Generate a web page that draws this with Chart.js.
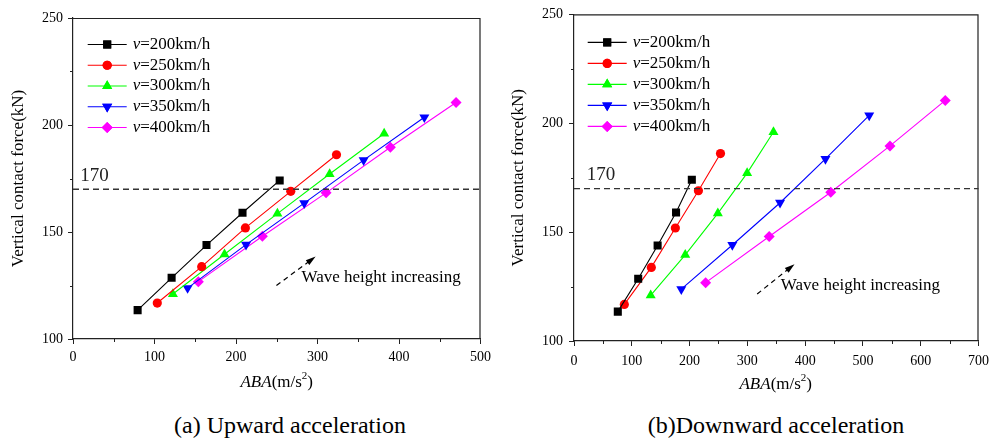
<!DOCTYPE html>
<html lang="en">
  <head>
    <meta charset="UTF-8" />
    <title>ABA vs vertical contact force</title>
    <script src="https://cdn.jsdelivr.net/npm/chart.js"></script>
    <style>
      body {
        margin: 0;
        background: #fff;
        font-family: "Liberation Serif", serif;
      }
      .wrap {
        position: relative;
        width: 996px;
        height: 441px;
        overflow: hidden;
      }
      canvas {
        position: absolute;
        top: 0;
      }
      .caption {
        position: absolute;
        top: 410px;
        font-size: 24px;
        line-height: 30px;
        color: #000;
        transform: translateX(-50%);
        white-space: nowrap;
      }
    </style>
  </head>
  <body>
    <div class="wrap">
      <canvas id="upChart" width="496" height="400" style="left: 0"></canvas>
      <canvas id="downChart" width="500" height="400" style="left: 496px"></canvas>
      <div class="caption" style="left: 290px">(a) Upward acceleration</div>
      <div class="caption" style="left: 776px">(b)Downward acceleration</div>
    </div>

    <script>
      // speeds (km/h) and colours per series
      const speeds = ["200", "250", "300", "350", "400"];
      const colors = ["#000000", "#ff0000", "#00ff00", "#0000ff", "#ff00ff"];

      // vertical contact force (kN), same wave heights in both panels
      const force200 = [113.5, 128.6, 143.9, 159.0, 174.1];
      const force250 = [116.8, 133.8, 151.9, 169.0, 186.1];
      const force300 = [121.0, 139.6, 158.6, 177.1, 196.0];
      const force350 = [123.8, 144.1, 163.5, 183.6, 203.6];
      const force400 = [126.8, 148.0, 168.3, 189.6, 210.5];

      // ABA (m/s2), upward acceleration
      const upAba200 = [79.3, 121.0, 163.8, 208.0, 253.6];
      const upAba250 = [103.4, 157.9, 211.5, 267.2, 323.3];
      const upAba300 = [122.6, 185.9, 250.8, 314.9, 381.8];
      const upAba350 = [140.6, 212.3, 283.7, 356.6, 431.1];
      const upAba400 = [153.8, 232.4, 310.5, 389.4, 470.0];

      // ABA (m/s2), downward acceleration
      const downAba200 = [75.8, 111.1, 144.7, 176.6, 203.9];
      const downAba250 = [87.1, 133.8, 175.4, 215.3, 253.5];
      const downAba300 = [132.7, 192.5, 248.9, 299.6, 345.2];
      const downAba350 = [185.7, 274.0, 356.6, 435.1, 510.9];
      const downAba400 = [227.8, 337.8, 444.3, 546.8, 642.5];

      const forces = [force200, force250, force300, force350, force400];
      const limitForce = 170;

      const FONT = "Liberation Serif";
      const markers = [
        { style: "rect", rotation: 0, radius: 5.7 },
        { style: "circle", rotation: 0, radius: 4.6 },
        { style: "triangle", rotation: 0, radius: 5.8 },
        { style: "triangle", rotation: 180, radius: 5.8 },
        { style: "rectRot", rotation: 0, radius: 5.5 },
      ];

      function buildDatasets(abaList) {
        return abaList.map((aba, i) => ({
          label: "v=" + speeds[i] + "km/h",
          data: aba.map((x, k) => ({ x: x, y: forces[i][k] })),
          showLine: true,
          borderColor: colors[i],
          backgroundColor: colors[i],
          borderWidth: 1.1,
          pointStyle: markers[i].style,
          pointRotation: markers[i].rotation,
          pointRadius: markers[i].radius,
          pointBorderWidth: 0,
          pointHoverRadius: markers[i].radius,
        }));
      }

      // minor ticks, frame, texts, legend and arrow
      const decorPlugin = {
        id: "decor",
        afterDraw(chart) {
          const o = chart.options.plugins.decor;
          const ctx = chart.ctx;
          const a = chart.chartArea;
          const xs = chart.scales.x;
          const ys = chart.scales.y;
          ctx.save();

          // frame
          ctx.strokeStyle = "#222";
          ctx.lineWidth = 1.2;
          ctx.beginPath();
          ctx.moveTo(a.left, a.top + 0.5);
          ctx.lineTo(a.right - 0.5, a.top + 0.5);
          ctx.lineTo(a.right - 0.5, a.bottom);
          ctx.stroke();

          // minor ticks
          ctx.lineWidth = 1;
          ctx.beginPath();
          for (let v = 50; v < o.xMax; v += 100) {
            const px = Math.round(xs.getPixelForValue(v)) + 0.5;
            ctx.moveTo(px, a.bottom);
            ctx.lineTo(px, a.bottom + 3);
          }
          for (let v = 125; v < 250; v += 50) {
            const py = Math.round(ys.getPixelForValue(v)) + 0.5;
            ctx.moveTo(a.left, py);
            ctx.lineTo(a.left - 3, py);
          }
          ctx.stroke();

          // limit dashed line
          ctx.strokeStyle = "#333";
          ctx.lineWidth = 1.4;
          ctx.setLineDash([6, 4]);
          const ly = ys.getPixelForValue(limitForce);
          ctx.beginPath();
          ctx.moveTo(a.left, ly);
          ctx.lineTo(a.right, ly);
          ctx.stroke();
          ctx.setLineDash([]);

          ctx.fillStyle = "#222";
          ctx.font = "19px '" + FONT + "'";
          ctx.textBaseline = "middle";
          ctx.textAlign = "left";
          ctx.fillText(String(limitForce), xs.getPixelForValue(o.limitLabelX), ys.getPixelForValue(176.3));

          // wave arrow
          const x1 = xs.getPixelForValue(o.arrow[0]);
          const y1 = ys.getPixelForValue(o.arrow[1]);
          const x2 = xs.getPixelForValue(o.arrow[2]);
          const y2 = ys.getPixelForValue(o.arrow[3]);
          const ang = Math.atan2(y2 - y1, x2 - x1);
          ctx.strokeStyle = "#000";
          ctx.lineWidth = 1.2;
          ctx.setLineDash([5, 4]);
          ctx.beginPath();
          ctx.moveTo(x1, y1);
          ctx.lineTo(x2 - 8 * Math.cos(ang), y2 - 8 * Math.sin(ang));
          ctx.stroke();
          ctx.setLineDash([]);
          ctx.fillStyle = "#000";
          ctx.beginPath();
          ctx.moveTo(x2, y2);
          ctx.lineTo(x2 - 10 * Math.cos(ang) + 3 * Math.sin(ang), y2 - 10 * Math.sin(ang) - 3 * Math.cos(ang));
          ctx.lineTo(x2 - 10 * Math.cos(ang) - 3 * Math.sin(ang), y2 - 10 * Math.sin(ang) + 3 * Math.cos(ang));
          ctx.closePath();
          ctx.fill();

          ctx.font = "17px '" + FONT + "'";
          ctx.fillText("Wave height increasing", xs.getPixelForValue(o.waveText[0]), ys.getPixelForValue(o.waveText[1]));

          // y title
          ctx.save();
          ctx.translate(o.yTitleX, (a.top + a.bottom) / 2);
          ctx.rotate(-Math.PI / 2);
          ctx.textAlign = "center";
          ctx.font = "17px '" + FONT + "'";
          ctx.fillText("Vertical contact force(kN)", 0, 0);
          ctx.restore();

          // x title: ABA(m/s2)
          const italic = "italic 17px '" + FONT + "'";
          const normal = "17px '" + FONT + "'";
          const small = "11px '" + FONT + "'";
          ctx.font = italic;
          const w1 = ctx.measureText("ABA").width;
          ctx.font = normal;
          const w2 = ctx.measureText("(m/s").width;
          const w3 = ctx.measureText(")").width;
          ctx.font = small;
          const w4 = ctx.measureText("2").width;
          let tx = (a.left + a.right) / 2 - (w1 + w2 + w3 + w4) / 2 + o.xTitleShift;
          const ty = a.bottom + o.xTitleDy;
          ctx.textAlign = "left";
          ctx.font = italic;
          ctx.fillText("ABA", tx, ty);
          tx += w1;
          ctx.font = normal;
          ctx.fillText("(m/s", tx, ty);
          tx += w2;
          ctx.font = small;
          ctx.fillText("2", tx, ty - 7);
          tx += w4;
          ctx.font = normal;
          ctx.fillText(")", tx, ty);

          // legend
          chart.data.datasets.forEach((ds, i) => {
            const y = a.top + o.legendTop + i * o.legendGap;
            const lx = a.left + o.legendLeft;
            ctx.strokeStyle = ds.borderColor;
            ctx.lineWidth = 1.1;
            ctx.beginPath();
            ctx.moveTo(lx, y);
            ctx.lineTo(lx + 39, y);
            ctx.stroke();
            ctx.fillStyle = ds.backgroundColor;
            Chart.helpers.drawPoint(
              ctx,
              { pointStyle: ds.pointStyle, rotation: ds.pointRotation, radius: ds.pointRadius, borderWidth: 0 },
              lx + 19.5,
              y
            );
            ctx.fill();
            ctx.fillStyle = "#000";
            let sx = lx + 45;
            ctx.font = italic;
            ctx.fillText("v", sx, y);
            sx += ctx.measureText("v").width;
            ctx.font = normal;
            ctx.fillText("=" + speeds[i] + "km/h", sx, y);
          });

          ctx.restore();
        },
      };

      function makeChart(id, abaList, cfg) {
        return new Chart(document.getElementById(id), {
          type: "scatter",
          data: { datasets: buildDatasets(abaList) },
          options: {
            responsive: false,
            animation: false,
            layout: { padding: cfg.padding },
            plugins: {
              legend: { display: false },
              tooltip: { enabled: false },
              decor: cfg.decor,
            },
            scales: {
              x: {
                type: "linear",
                min: 0,
                max: cfg.decor.xMax,
                afterFit: (s) => {
                  s.height = cfg.xHeight;
                },
                ticks: {
                  stepSize: 100,
                  color: "#000",
                  padding: cfg.xPad,
                  maxRotation: 0,
                  font: { family: FONT, size: 14 },
                },
                grid: { drawOnChartArea: false, drawTicks: true, tickLength: 5, color: "#222" },
                border: { display: true, color: "#222", width: 1.2 },
              },
              y: {
                type: "linear",
                min: 100,
                max: 250,
                afterFit: (s) => {
                  s.width = cfg.yWidth;
                },
                ticks: {
                  stepSize: 50,
                  color: "#000",
                  padding: cfg.yPad,
                  font: { family: FONT, size: 14 },
                },
                grid: { drawOnChartArea: false, drawTicks: true, tickLength: 5, color: "#222" },
                border: { display: true, color: "#222", width: 1.2 },
              },
            },
          },
          plugins: [decorPlugin],
        });
      }

      function drawAll() {
        makeChart("upChart", [upAba200, upAba250, upAba300, upAba350, upAba400], {
          padding: { top: 18, right: 6, left: 0, bottom: 0 },
          xHeight: 61,
          yWidth: 73,
          xPad: 5,
          yPad: 5,
          decor: {
            xMax: 500,
            limitLabelX: 9,
            arrow: [249.6, 125, 297.7, 138.5],
            waveText: [280.4, 128.5],
            yTitleX: 18.5,
            xTitleShift: 0,
            xTitleDy: 44,
            legendTop: 26.5,
            legendGap: 20.75,
            legendLeft: 14.7,
          },
        });

        makeChart("downChart", [downAba200, downAba250, downAba300, downAba350, downAba400], {
          padding: { top: 12, right: 13, left: 0, bottom: 0 },
          xHeight: 59,
          yWidth: 78,
          xPad: 7,
          yPad: 6,
          decor: {
            xMax: 700,
            limitLabelX: 22,
            arrow: [317, 121.6, 381.6, 135.3],
            waveText: [358, 125.4],
            yTitleX: 23,
            xTitleShift: -0.5,
            xTitleDy: 44,
            legendTop: 28,
            legendGap: 21,
            legendLeft: 13.7,
          },
        });
      }

      Promise.all([
        document.fonts.load("17px 'Liberation Serif'"),
        document.fonts.load("italic 17px 'Liberation Serif'"),
      ])
        .catch(() => {})
        .then(drawAll);
    </script>
  </body>
</html>
